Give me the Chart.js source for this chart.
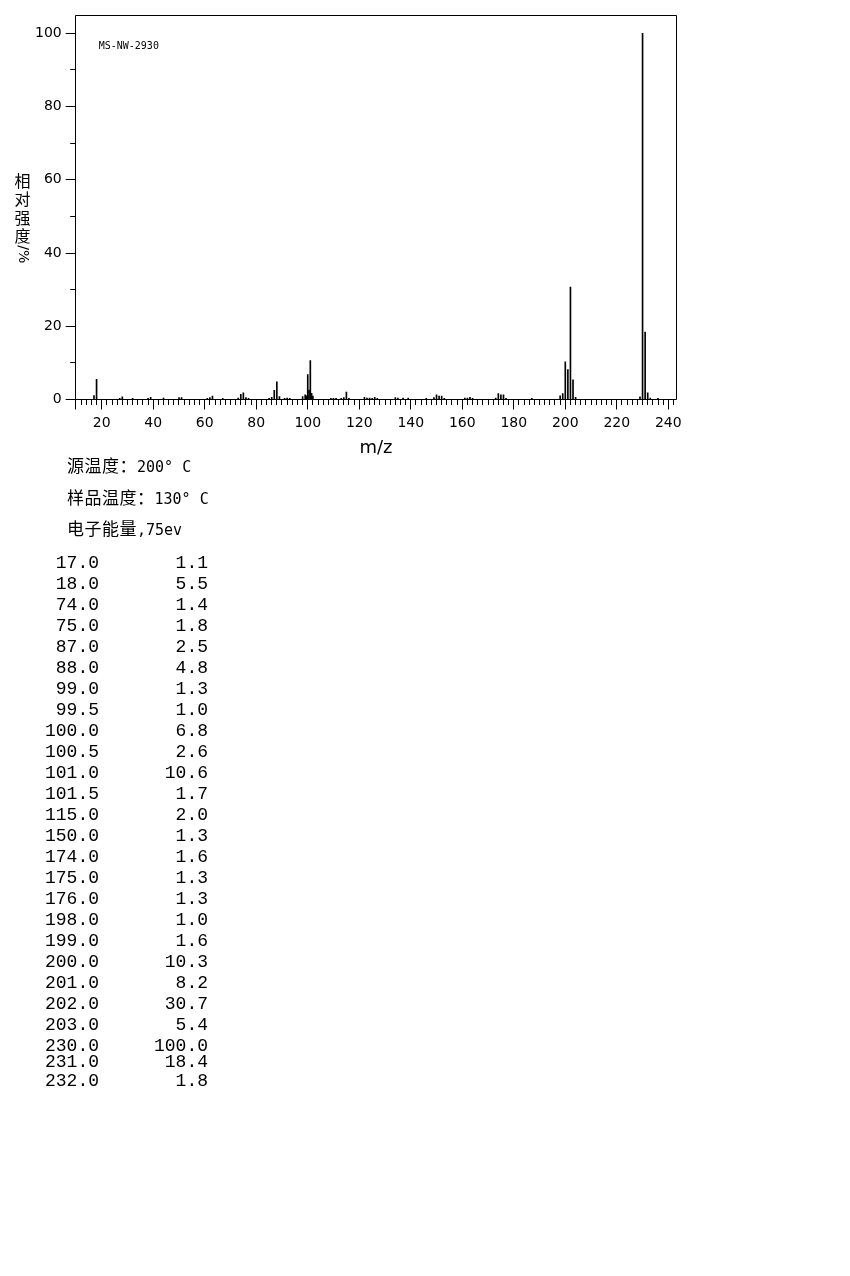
<!DOCTYPE html>
<html lang="zh">
<head>
    <meta charset="UTF-8">
    <title>MS-NW-2930</title>
    <script src="https://cdn.jsdelivr.net/npm/chart.js"></script>
    <style>
        body { margin: 0; background: #fff; }
        #page { position: relative; width: 850px; height: 1276px; }
        #chartBox { position: absolute; left: 0; top: 0; width: 850px; height: 460px; }
        .info { position: absolute; left: 67px; font: 15px "DejaVu Sans Mono", monospace; line-height: 20px; color: #000; white-space: pre; }
        .info .cjk { font: 17px "Noto Sans CJK SC", sans-serif; letter-spacing: 0.5px; }
        .row { position: absolute; left: 0; width: 220px; height: 20px; font: 18px "Liberation Mono", monospace; line-height: 20px; color: #000; }
        .row span { position: absolute; top: 0; text-align: right; }
        .row .mz { right: 121px; }
        .row .ab { right: 12px; }
    </style>
</head>
<body>
<div id="page">
    <div id="chartBox"><canvas id="msChart" width="850" height="460"></canvas></div>
    <div class="info" style="top:452px"><span class="cjk">源温度：</span>200° C</div>
    <div class="info" style="top:484px"><span class="cjk">样品温度：</span>130° C</div>
    <div class="info" style="top:515px"><span class="cjk">电子能量</span>,75ev</div>
    <div id="peakTable"></div>
</div>

<script>
    // spectrum (m/z, relative intensity %), small peaks
    const mzValues = [17, 18, 27, 28, 32, 38, 39, 44, 50, 51, 61, 62, 63, 67,
        73, 74, 75, 76, 77, 85, 86, 87, 88, 89, 91, 92, 93, 98,
        99, 99.5, 100, 100.5, 101, 101.5, 102, 109, 110, 111, 113, 114, 115, 116,
        122, 123, 124, 125, 126, 127, 134, 135, 137, 139, 146, 149, 150, 151, 152, 153,
        161, 162, 163, 164, 173, 174, 175, 176, 177, 187,
        198, 199, 200, 201, 202, 203, 204, 229, 230, 231, 232, 233, 236];
    const intensities = [1.1, 5.5, 0.3, 0.7, 0.3, 0.3, 0.6, 0.4, 0.5, 0.5, 0.3, 0.5, 0.9, 0.3,
        0.4, 1.4, 1.8, 0.5, 0.3, 0.3, 0.6, 2.5, 4.8, 0.8, 0.3, 0.4, 0.3, 0.8,
        1.3, 1.0, 6.8, 2.6, 10.6, 1.7, 0.9, 0.3, 0.3, 0.3, 0.3, 0.5, 2.0, 0.3,
        0.6, 0.4, 0.4, 0.3, 0.6, 0.3, 0.5, 0.4, 0.4, 0.4, 0.3, 0.5, 1.3, 0.9, 0.9, 0.3,
        0.4, 0.4, 0.6, 0.3, 0.4, 1.6, 1.3, 1.3, 0.3, 0.3,
        1.0, 1.6, 10.3, 8.2, 30.7, 5.4, 0.6, 0.7, 100.0, 18.4, 1.8, 0.4, 0.3];

    const xLabelTicks = [20, 40, 60, 80, 100, 120, 140, 160, 180, 200, 220, 240];
    const yLabelTicks = [0, 20, 40, 60, 80, 100];
    const yMinorTicks = [10, 30, 50, 70, 90];
    const yTitleChars = ['相', '对', '强', '度'];
    const yTitleUnit = '/%';
    const sampleCode = 'MS-NW-2930';

    // table below lists peaks >= 1%
    const tableRows = mzValues
        .map((m, i) => ({ m: m, v: intensities[i] }))
        .filter(p => p.v >= 1.0);

    const table = document.getElementById('peakTable');
    const lastRowsShift = [16, 35]; // last two rows are squeezed in the original
    tableRows.forEach((p, i) => {
        const top = i < 24 ? 553 + 21 * i : 553 + 21 * 23 + lastRowsShift[i - 24];
        const row = document.createElement('div');
        row.className = 'row';
        row.style.top = top + 'px';
        row.innerHTML = '<span class="mz">' + p.m.toFixed(1) + '</span><span class="ab">' + p.v.toFixed(1) + '</span>';
        table.appendChild(row);
    });

    const frameAndTicks = {
        id: 'frameAndTicks',
        afterDraw(chart) {
            const ctx = chart.ctx;
            const { left, right, top, bottom } = chart.chartArea;
            const xs = chart.scales.x, ys = chart.scales.y;
            const snap = v => Math.floor(v) + 0.5;
            ctx.save();
            ctx.strokeStyle = '#000';
            ctx.lineWidth = 1;
            ctx.beginPath();
            ctx.moveTo(snap(left), snap(top));
            ctx.lineTo(snap(right), snap(top));
            ctx.lineTo(snap(right), snap(bottom));
            ctx.lineTo(snap(left), snap(bottom));
            ctx.lineTo(snap(left), snap(top));
            // left frame line runs down like a major tick
            ctx.moveTo(snap(left), snap(bottom));
            ctx.lineTo(snap(left), bottom + 10);
            for (let v = 12; v <= 242; v += 2) {
                const px = snap(xs.getPixelForValue(v));
                const len = v % 20 === 0 ? 10 : 5.5;
                ctx.moveTo(px, snap(bottom));
                ctx.lineTo(px, bottom + len);
            }
            yLabelTicks.forEach(v => {
                const py = snap(ys.getPixelForValue(v));
                ctx.moveTo(left - 10, py);
                ctx.lineTo(snap(left), py);
            });
            yMinorTicks.forEach(v => {
                const py = snap(ys.getPixelForValue(v));
                ctx.moveTo(left - 5.5, py);
                ctx.lineTo(snap(left), py);
            });
            ctx.stroke();

            ctx.fillStyle = '#000';
            ctx.font = '10px "DejaVu Sans Mono"';
            ctx.textBaseline = 'middle';
            ctx.textAlign = 'left';
            ctx.fillText(sampleCode, left + 23, top + 31);

            // vertical y title: CJK upright, unit turned
            ctx.font = '16px "Noto Sans CJK SC"';
            ctx.textAlign = 'center';
            yTitleChars.forEach((c, i) => {
                ctx.fillText(c, 22.5, 181 + 18.3 * i);
            });
            ctx.translate(22.5, 181 + 18.3 * 4);
            ctx.rotate(Math.PI / 2);
            ctx.font = '14px "DejaVu Sans"';
            ctx.fillText(yTitleUnit, 0, 0);
            ctx.restore();
        }
    };

    new Chart(document.getElementById('msChart'), {
        type: 'bar',
        data: {
            datasets: [{
                data: mzValues.map((m, i) => ({ x: m, y: intensities[i] })),
                backgroundColor: '#000',
                borderWidth: 0,
                barThickness: 1
            }]
        },
        options: {
            responsive: false,
            animation: false,
            layout: { padding: { left: 0, top: 15, right: 173.7, bottom: 0 } },
            plugins: { legend: { display: false }, tooltip: { enabled: false } },
            scales: {
                x: {
                    type: 'linear',
                    min: 9.9,
                    max: 243.1,
                    offset: false,
                    grid: { display: false, drawTicks: false },
                    border: { display: false },
                    afterBuildTicks: s => { s.ticks = xLabelTicks.map(v => ({ value: v })); },
                    afterFit: s => { s.height = 60.5; s.paddingLeft = 0; s.paddingRight = 0; },
                    ticks: {
                        color: '#000',
                        font: { family: 'DejaVu Sans', size: 14 },
                        padding: 15,
                        maxRotation: 0,
                        autoSkip: false
                    },
                    title: {
                        display: true,
                        text: 'm/z',
                        color: '#000',
                        font: { family: 'DejaVu Sans', size: 18 },
                        padding: { top: 0, bottom: 1 }
                    }
                },
                y: {
                    min: 0,
                    max: 105,
                    grid: { display: false, drawTicks: false },
                    border: { display: false },
                    afterBuildTicks: s => { s.ticks = yLabelTicks.map(v => ({ value: v })); },
                    afterFit: s => { s.width = 75.7; s.paddingTop = 0; s.paddingBottom = 0; },
                    ticks: {
                        color: '#000',
                        font: { family: 'DejaVu Sans', size: 14 },
                        padding: 14
                    }
                }
            }
        },
        plugins: [frameAndTicks]
    });
</script>
</body>
</html>
